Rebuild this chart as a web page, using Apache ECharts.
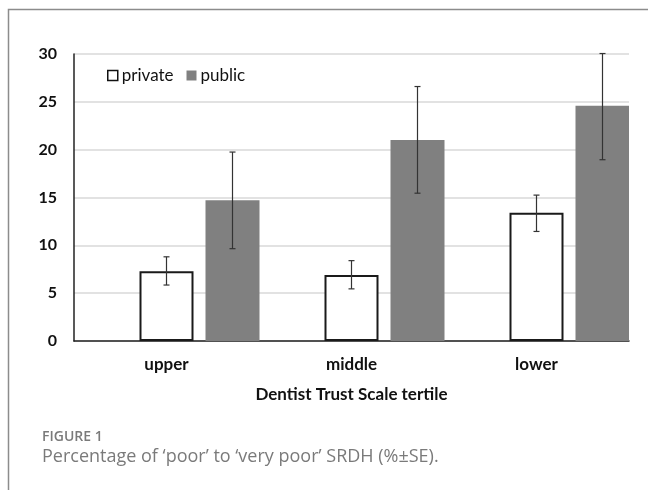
<!DOCTYPE html>
<html>
<head>
<meta charset="utf-8">
<script src="https://cdn.jsdelivr.net/npm/echarts@6/dist/echarts.min.js"></script>
<style>
  html, body { margin: 0; padding: 0; background: #fff; }
  #chart { width: 648px; height: 490px; }
</style>
</head>
<body>
<div id="chart"></div>
<script>
// data
const categories = ['upper', 'middle', 'lower'];
const privateValues = [7.3, 6.9, 13.4];
const publicValues = [14.7, 21.0, 24.6];
const privateLow = [5.85, 5.45, 11.45];
const privateHigh = [8.8, 8.4, 15.25];
const publicLow = [9.65, 15.45, 18.95];
const publicHigh = [19.75, 26.6, 30.05];
const yTicks = [0, 5, 10, 15, 20, 25, 30];

const BAR_W = 54;
const GAP_PX = 12;
const font = 'Lato, "Open Sans", sans-serif';

const chart = echarts.init(document.getElementById('chart'));

// error bar drawer; offset in pixels from the category centre
function errorBars(offset) {
  return function (params, api) {
    const lo = api.coord([api.value(0), api.value(1)]);
    const hi = api.coord([api.value(0), api.value(2)]);
    const x = lo[0] + offset;
    const cap = 3;
    const style = { stroke: '#333', lineWidth: 1.2 };
    return {
      type: 'group',
      children: [
        { type: 'line', shape: { x1: x, y1: lo[1], x2: x, y2: hi[1] }, style },
        { type: 'line', shape: { x1: x - cap, y1: lo[1], x2: x + cap, y2: lo[1] }, style },
        { type: 'line', shape: { x1: x - cap, y1: hi[1], x2: x + cap, y2: hi[1] }, style }
      ]
    };
  };
}

const option = {
  animation: false,
  textStyle: { fontFamily: font },
  graphic: [
    {
      type: 'rect', silent: true,
      shape: { x: 8.5, y: 9.5, width: 700, height: 600 },
      style: { fill: 'none', stroke: '#8c8c8c', lineWidth: 1.5 }
    },
    {
      type: 'text', left: 42, top: 430,
      style: { text: 'FIGURE 1', fill: '#7a7a7a', font: '600 14px "Open Sans", sans-serif' }
    },
    {
      type: 'text', left: 42, top: 448,
      style: { text: 'Percentage of \u2018poor\u2019 to \u2018very poor\u2019 SRDH (%\u00b1SE).', fill: '#7a7a7a', font: '18px "Open Sans", sans-serif' }
    }
  ],
  legend: {
    data: [
      { name: 'private', icon: 'rect', itemStyle: { color: '#fff', borderColor: '#111', borderWidth: 1.5 } },
      { name: 'public', icon: 'rect' }
    ],
    left: 102,
    top: 62,
    itemWidth: 10,
    itemHeight: 10,
    itemGap: 13,
    textStyle: { fontFamily: font, fontSize: 17, color: '#111', padding: [0, 0, 0, -1] }
  },
  grid: { left: 74, right: 19, top: 54, bottom: 149 },
  xAxis: {
    type: 'category',
    data: categories,
    axisTick: { show: false },
    axisLine: { lineStyle: { color: '#222', width: 1.5 } },
    axisLabel: { fontWeight: 'bold', fontSize: 17, color: '#111', margin: 15 },
    name: 'Dentist Trust Scale tertile',
    nameLocation: 'middle',
    nameGap: 45,
    nameTextStyle: { fontWeight: 'bold', fontSize: 17, color: '#111' }
  },
  yAxis: {
    type: 'value',
    min: yTicks[0],
    max: yTicks[yTicks.length - 1],
    interval: 5,
    axisLine: { show: true, lineStyle: { color: '#222', width: 1.5 } },
    axisTick: { show: false },
    axisLabel: { fontWeight: 'bold', fontSize: 16, color: '#111', margin: 17 },
    splitLine: { lineStyle: { color: '#d9d9d9', width: 1.5 } }
  },
  series: [
    {
      // empty slot so that the private bar sits on the category centre
      name: 'slot', type: 'bar', data: categories.map(() => null),
      barWidth: BAR_W, barGap: (GAP_PX / BAR_W * 100) + '%'
    },
    {
      name: 'private', type: 'bar', data: privateValues,
      barWidth: BAR_W, barGap: (GAP_PX / BAR_W * 100) + '%',
      itemStyle: { color: '#fff', borderColor: '#1a1a1a', borderWidth: 2 }
    },
    {
      name: 'public', type: 'bar', data: publicValues,
      barWidth: BAR_W, barGap: (GAP_PX / BAR_W * 100) + '%',
      itemStyle: { color: '#808080' }
    },
    {
      type: 'custom', name: 'privateErr',
      data: categories.map((c, i) => [i, privateLow[i], privateHigh[i]]),
      renderItem: errorBars(0), z: 5
    },
    {
      type: 'custom', name: 'publicErr',
      data: categories.map((c, i) => [i, publicLow[i], publicHigh[i]]),
      renderItem: errorBars(BAR_W + GAP_PX), z: 5
    }
  ]
};

chart.setOption(option);
</script>
</body>
</html>
